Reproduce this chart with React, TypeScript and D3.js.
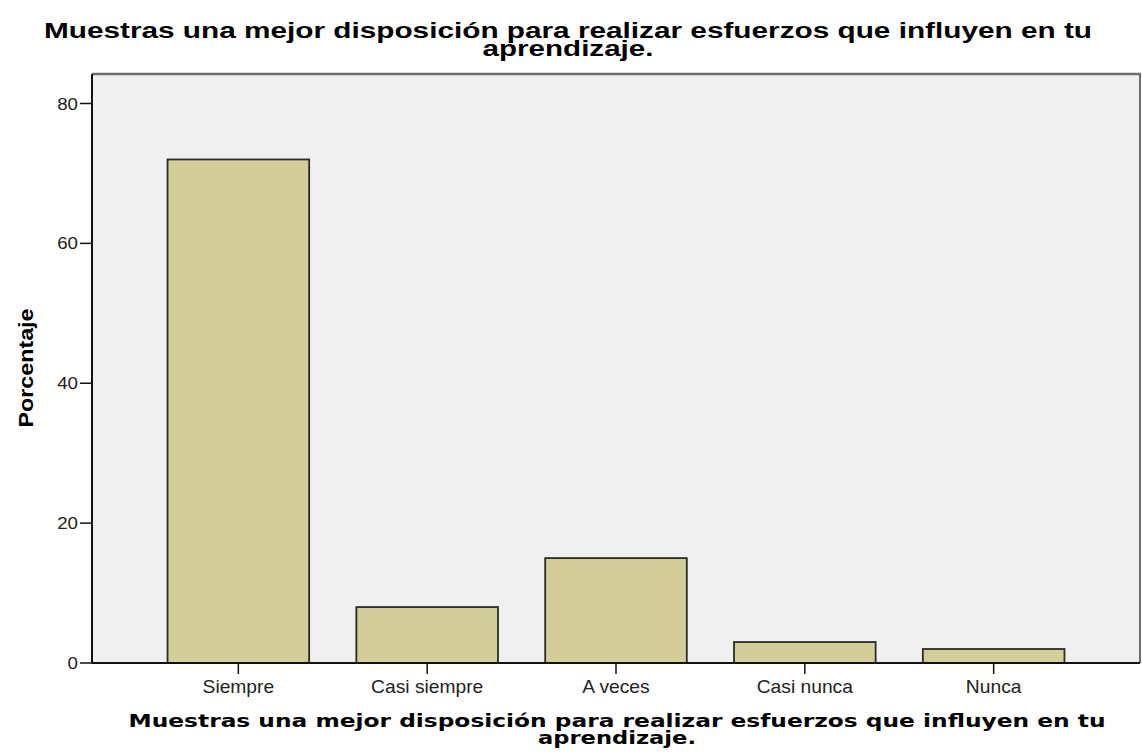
import React from "react";
import * as d3 from "d3";

const categories = ["Siempre", "Casi siempre", "A veces", "Casi nunca", "Nunca"];
const values = [72, 8, 15, 3, 2];
const yTicks = [0, 20, 40, 60, 80];
const titleLines = ["Muestras una mejor disposición para realizar esfuerzos que influyen en tu", "aprendizaje."];
const yLabel = "Porcentaje";

const W = 1142, H = 756;
const left = 92, right = 1140, top = 74, bottom = 663, yTop = 103.5;
const SX = 1.1;

export default function App() {
  const x = d3.scaleBand<string>().domain(categories).range([left, right]).paddingInner(0.25).paddingOuter(0.4);
  const y = d3.scaleLinear().domain([0, 80]).range([bottom, yTop]);
  const plotCx = (left + right) / 2;
  const font = "Arial, 'Liberation Sans', sans-serif";
  return (
    <svg width={W} height={H} style={{ position: "absolute", left: 0, top: 0, background: "#fff" }}>
      <rect x={left} y={top} width={right - left} height={bottom - top} fill="#f0f0f0" />
      <line x1={left} x2={right + 1} y1={top} y2={top} stroke="#6e6e6e" strokeWidth={2.5} />
      <line x1={right} x2={right} y1={top} y2={bottom} stroke="#6e6e6e" strokeWidth={2} />
      {categories.map((c, i) => (
        <rect key={c} x={x(c)!} y={y(values[i])} width={x.bandwidth()} height={bottom - y(values[i])}
          fill="#d3ce97" stroke="#2b2b2b" strokeWidth={1.8} />
      ))}
      <line x1={left} x2={left} y1={top} y2={bottom} stroke="#111" strokeWidth={2} />
      <line x1={left} x2={right} y1={bottom} y2={bottom} stroke="#111" strokeWidth={2} />
      {yTicks.map(t => (
        <g key={t}>
          <line x1={left - 12} x2={left} y1={y(t)} y2={y(t)} stroke="#111" strokeWidth={1.5} />
          <text transform={`translate(${left - 14},${y(t) + 6}) scale(${SX},1)`} textAnchor="end" fontFamily={font} fontSize={17} fill="#222">{t}</text>
        </g>
      ))}
      {categories.map(c => {
        const mx = x(c)! + x.bandwidth() / 2;
        return (
          <g key={c}>
            <line x1={mx} x2={mx} y1={bottom} y2={bottom + 11} stroke="#111" strokeWidth={1.5} />
            <text transform={`translate(${mx},693) scale(${SX},1)`} textAnchor="middle" fontFamily={font} fontSize={17.5} fill="#222">{c}</text>
          </g>
        );
      })}
      <text transform={`translate(33,368) rotate(-90)`} textAnchor="middle" fontFamily={font} fontWeight="bold" fontSize={20} textLength={119} lengthAdjust="spacingAndGlyphs" fill="#000">{yLabel}</text>
      <text x={568} y={37.5} textAnchor="middle" fontFamily={font} fontWeight="bold" fontSize={21.5} textLength={1048} lengthAdjust="spacingAndGlyphs" fill="#000">{titleLines[0]}</text>
      <text x={568} y={56} textAnchor="middle" fontFamily={font} fontWeight="bold" fontSize={21.5} textLength={171} lengthAdjust="spacingAndGlyphs" fill="#000">{titleLines[1]}</text>
      <text x={plotCx + 1} y={727} textAnchor="middle" fontFamily="'DejaVu Sans', sans-serif" fontWeight="bold" fontSize={18} textLength={977} lengthAdjust="spacingAndGlyphs" fill="#000">{titleLines[0]}</text>
      <text x={plotCx + 1} y={744} textAnchor="middle" fontFamily="'DejaVu Sans', sans-serif" fontWeight="bold" fontSize={18} textLength={158} lengthAdjust="spacingAndGlyphs" fill="#000">{titleLines[1]}</text>
    </svg>
  );
}
